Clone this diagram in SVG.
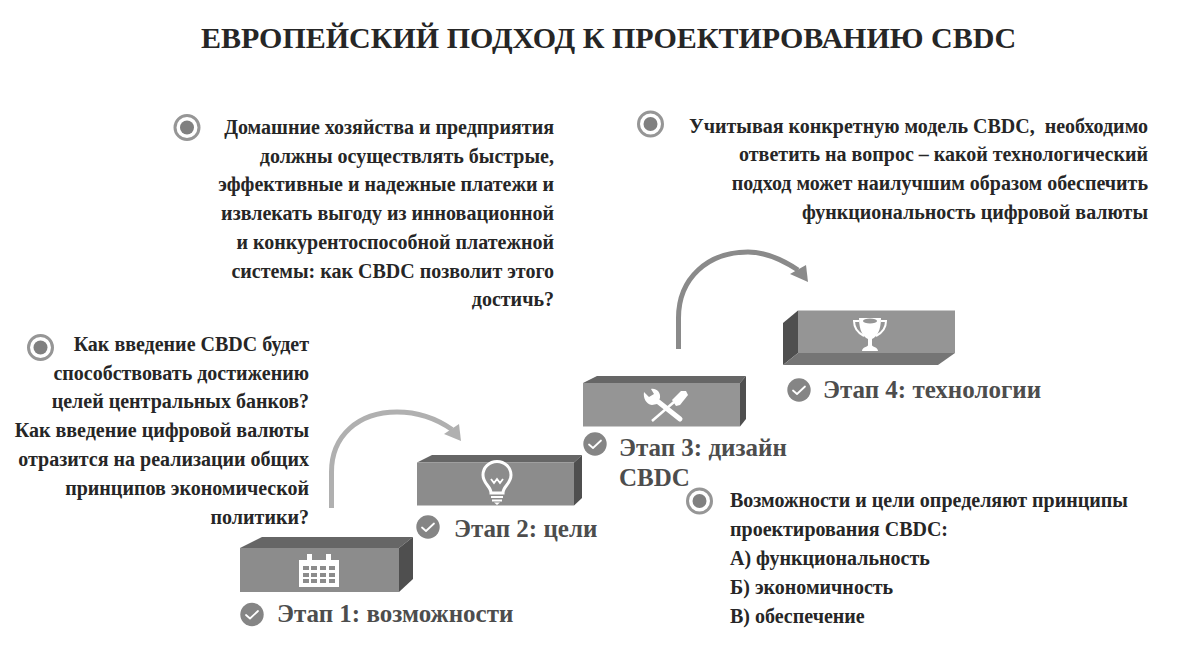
<svg xmlns="http://www.w3.org/2000/svg" width="1188" height="667" viewBox="0 0 1188 667">
<style>
text{font-family:"Liberation Serif","Times New Roman",serif;font-weight:bold}
.title{font-size:30px;fill:#262626}
.b{font-size:20px;fill:#262626}
.r{text-anchor:end}
.l{font-size:25px;fill:#4d4d4d}
.ring{fill:#fff;stroke:#969696;stroke-width:3}
.dot{fill:#808080}
.chk{fill:#858585}
.tick{fill:none;stroke:#fff;stroke-width:1.800;stroke-linecap:round;stroke-linejoin:round}
.front{fill:#8c8c8c}.top{fill:#666}.side{fill:#4f4f4f}
.ic{fill:#fff}
.ics{fill:none;stroke:#fff}
</style>
<defs>
<g id="target"><circle class="ring" r="12"/><circle class="dot" r="7"/></g>
<g id="check"><circle class="chk" r="11.700"/><path class="tick" d="M-6 0.500L-2 4L6 -3.500"/></g>
</defs>
<rect width="1188" height="667" fill="#fff"/>
<text class="title" x="608.500" y="48" text-anchor="middle">ЕВРОПЕЙСКИЙ ПОДХОД К ПРОЕКТИРОВАНИЮ CBDC</text>

<g id="connectors">
<path d="M331.500 508V472C331.500 436 358 412 397 412C420 412 437 419 452 429.500" fill="none" stroke="#b0b0b0" stroke-width="5"/>
<path d="M461 441L459 424L444 434Z" fill="#b0b0b0"/>
<path d="M678.500 349V318C678.500 278 708 252 748 252C765 252 783 260 798 270" fill="none" stroke="#8a8a8a" stroke-width="5"/>
<path d="M808 282L806 265L790 274Z" fill="#8a8a8a"/>
</g>

<g id="note-1">
<use href="#target" x="187" y="127.500"/>
<text class="b r" x="554" y="133.700">Домашние хозяйства и предприятия</text>
<text class="b r" x="554" y="162.700">должны осуществлять быстрые,</text>
<text class="b r" x="554" y="190.700">эффективные и надежные платежи и</text>
<text class="b r" x="554" y="219.700">извлекать выгоду из инновационной</text>
<text class="b r" x="554" y="248.700">и конкурентоспособной платежной</text>
<text class="b r" x="554" y="277.700">системы: как CBDC позволит этого</text>
<text class="b r" x="554" y="305.700">достичь?</text>
</g>
<g id="note-2">
<use href="#target" x="650.500" y="124"/>
<text class="b r" x="1148" y="132.500" xml:space="preserve">Учитывая конкретную модель CBDC,  необходимо</text>
<text class="b r" x="1148" y="160.500">ответить на вопрос – какой технологический</text>
<text class="b r" x="1148" y="189.500">подход может наилучшим образом обеспечить</text>
<text class="b r" x="1148" y="218.500">функциональность цифровой валюты</text>
</g>
<g id="note-3">
<use href="#target" x="40.500" y="347.500"/>
<text class="b r" x="309" y="350.700">Как введение CBDC будет</text>
<text class="b r" x="309" y="379.700">способствовать достижению</text>
<text class="b r" x="309" y="407.700">целей центральных банков?</text>
<text class="b r" x="309" y="436.700">Как введение цифровой валюты</text>
<text class="b r" x="309" y="465.700">отразится на реализации общих</text>
<text class="b r" x="309" y="494.700">принципов экономической</text>
<text class="b r" x="309" y="523.700">политики?</text>
</g>
<g id="note-4">
<use href="#target" x="699.500" y="501"/>
<text class="b" x="730" y="506.700">Возможности и цели определяют принципы</text>
<text class="b" x="730" y="535.700">проектирования CBDC:</text>
<text class="b" x="730" y="564.700">А) функциональность</text>
<text class="b" x="730" y="593.700">Б) экономичность</text>
<text class="b" x="730" y="622.700">В) обеспечение</text>
</g>

<g id="stage-1">
<path class="top" d="M240 548L262 537H413L399 548Z"/>
<path class="side" d="M399 548L413 537V579L399 592Z"/>
<rect class="front" x="240" y="548" width="159" height="44"/>
<path class="ic" d="M299 560H307V554H312V560H326V554H331V560H339V587H299Z"/>
<g fill="#8c8c8c"><rect x="303" y="566" width="6" height="4"/><rect x="311" y="566" width="6" height="4"/><rect x="320" y="566" width="6" height="4"/><rect x="329" y="566" width="6" height="4"/><rect x="303" y="573" width="6" height="4"/><rect x="311" y="573" width="6" height="4"/><rect x="320" y="573" width="6" height="4"/><rect x="329" y="573" width="6" height="4"/><rect x="303" y="579" width="6" height="4"/><rect x="311" y="579" width="6" height="4"/><rect x="320" y="579" width="6" height="4"/><rect x="329" y="579" width="6" height="4"/></g>
<use href="#check" x="252" y="614.500"/>
<text class="l" x="277" y="622">Этап 1: возможности</text>
</g>
<g id="stage-2">
<path class="top" d="M417 462.500L432 455H582L574 462.500Z"/>
<path class="side" d="M574 462.500L582 455V498L574 505.500Z"/>
<rect class="front" x="417" y="462.500" width="157" height="43"/>
<path class="ics" stroke-width="3" d="M491 493C491 486 483 484 483 475A14 13.500 0 0 1 511 475C511 484 503 486 503 493Z"/>
<path class="ics" stroke-width="1.800" d="M491 479L494 483L497 479L500 483L503 479"/>
<path class="ics" stroke-width="2" d="M491 497H503M492 500.500H502"/>
<path class="ic" d="M494 502.500H500L497 505Z"/>
<use href="#check" x="428" y="527"/>
<text class="l" x="454" y="537">Этап 2: цели</text>
</g>
<g id="stage-3">
<path class="top" d="M583 383L597 376H746L740 383Z"/>
<path class="side" d="M740 383L746 376V419L740 426.500Z"/>
<rect fill="#959595" x="583" y="383" width="157" height="43.500"/>
<path class="ics" stroke-width="5" stroke-linecap="round" d="M656 400L680 419"/>
<path class="ic" d="M644 392L649 397L654 394L651 389C656 388 661 392 660 398L657 404L652 405C646 404 643 398 644 392Z"/>
<path class="ics" stroke-width="2.500" d="M652 421L674 402"/>
<path class="ic" d="M672 400L681 391L686 391L688 395L680 405L676 406Z"/>
<use href="#check" x="595" y="444"/>
<text class="l" x="619" y="456">Этап 3: дизайн</text>
<text class="l" x="619" y="486">CBDC</text>
</g>
<g id="stage-4">
<path class="side" d="M783 323L798 310.500V353L783 365Z"/>
<path fill="#757575" d="M783 365L798 353H955L938 365Z"/>
<rect fill="#959595" x="798" y="310.500" width="157" height="42.500"/>
<path class="ic" d="M859 318H881C881 330 877 337 872 339V345C872 347 878 347 878 351H862C862 347 868 347 868 345V339C863 337 859 330 859 318Z"/>
<path class="ics" stroke-width="2" d="M859 321H854C854 329 858 333 864 336M881 321H886C886 329 882 333 876 336"/>
<ellipse cx="870" cy="321" rx="7" ry="2.500" fill="#959595"/>
<use href="#check" x="799" y="390"/>
<text class="l" x="823" y="398">Этап 4: технологии</text>
</g>
</svg>
